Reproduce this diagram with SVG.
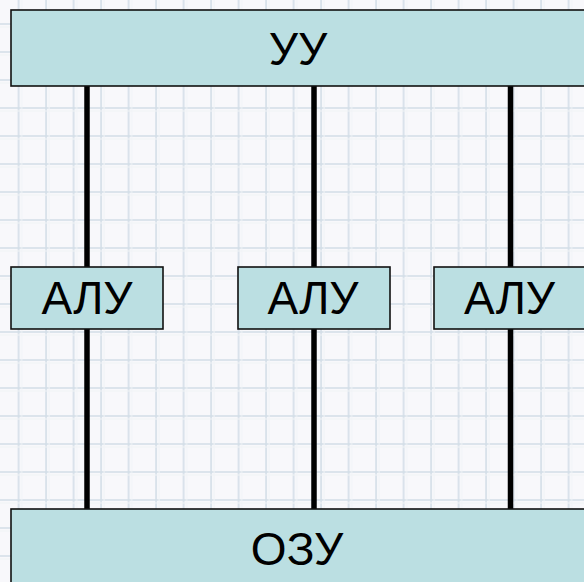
<svg xmlns="http://www.w3.org/2000/svg" width="584" height="582" viewBox="0 0 584 582">
  <style>
    .box { fill: #bbdfe2; stroke: #111; stroke-width: 1.6; }
    .lbl { font-family: "Liberation Sans", Arial, sans-serif; font-size: 46px; fill: #000; text-anchor: middle; }
    .bus { stroke: #000; stroke-width: 5.5; fill: none; }
  </style>
  <defs>
    <pattern id="grid" x="17.6" y="23" width="27.5" height="28" patternUnits="userSpaceOnUse">
      <path d="M1 0V28M0 1H27.5" stroke="#d3dee7" stroke-width="1.6" fill="none"/>
      <path d="M4 0V28M0 4H27.5" stroke="#f0f3f6" stroke-width="1" fill="none"/>
    </pattern>
  </defs>

  <!-- squared paper background -->
  <rect width="584" height="582" fill="#f8f8fb"/>
  <rect width="584" height="582" fill="url(#grid)"/>

  <!-- buses from control unit to memory -->
  <g id="connectors">
    <line class="bus" x1="87" y1="86" x2="87" y2="509"/>
    <line class="bus" x1="314" y1="86" x2="314" y2="509"/>
    <line class="bus" x1="510.5" y1="86" x2="510.5" y2="509"/>
  </g>

  <g id="control-unit">
    <rect class="box" x="11" y="10" width="580" height="76"/>
    <text class="lbl" x="298" y="65">УУ</text>
  </g>

  <g id="alu-1">
    <rect class="box" x="11" y="267" width="152" height="62"/>
    <text class="lbl" x="87" y="314">АЛУ</text>
  </g>

  <g id="alu-2">
    <rect class="box" x="238" y="267" width="152" height="62"/>
    <text class="lbl" x="313" y="314">АЛУ</text>
  </g>

  <g id="alu-3">
    <rect class="box" x="434" y="267" width="152" height="62"/>
    <text class="lbl" x="509.5" y="314">АЛУ</text>
  </g>

  <g id="memory">
    <rect class="box" x="11" y="509" width="580" height="80"/>
    <text class="lbl" x="297" y="565">ОЗУ</text>
  </g>
</svg>
